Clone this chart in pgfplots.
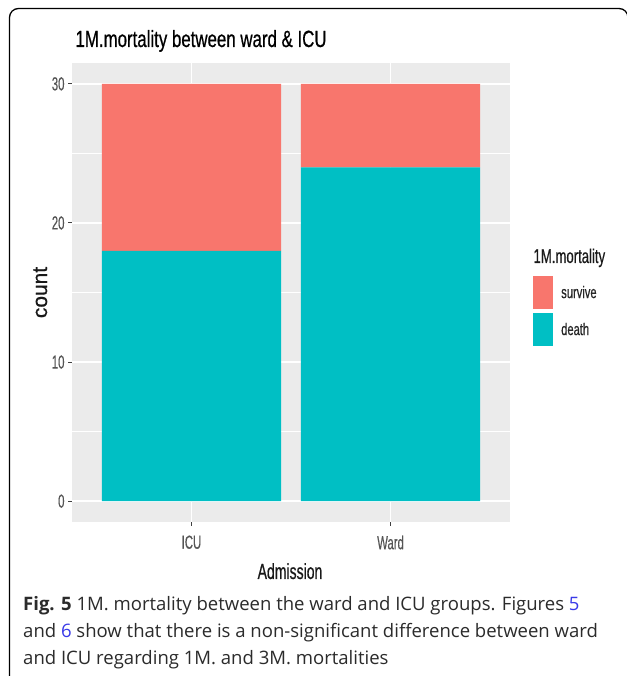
\documentclass[border=0pt]{standalone}
\usepackage{fontspec}
\usepackage{pgfplots}
\pgfplotsset{compat=1.18}
\setmainfont{Liberation Sans}
\newfontfamily\ggfont[FakeStretch=0.66,FakeBold=0.4]{Liberation Sans}
\newfontfamily\ggtick[FakeStretch=0.6,FakeBold=0.3]{Liberation Sans}
\newfontfamily\ggax[FakeStretch=0.64,FakeBold=0.6]{Liberation Sans}
\newfontfamily\ggtitle[FakeStretch=0.72,FakeBold=0.6]{Liberation Sans}
\newfontfamily\ggcount[FakeBold=0.6]{Liberation Sans}
\newfontfamily\capfont{Open Sans}
\definecolor{survive}{HTML}{F8766D}
\definecolor{death}{HTML}{00BFC4}
\definecolor{panel}{HTML}{EBEBEB}
\definecolor{ticklab}{HTML}{555555}
\definecolor{captxt}{HTML}{2B2B2B}
\definecolor{linkblue}{HTML}{3A3AE8}
\pgfplotsset{keyrect/.style={legend image code/.code={\fill[##1,draw=none] (0bp,-16.5bp) rectangle (20bp,16.5bp);}}}
\begin{document}
\begin{tikzpicture}[x=1bp,y=1bp]
\useasboundingbox (0,0) rectangle (627,676);
\fill[white] (0,0) rectangle (627,676);
\draw[line width=1.3bp, rounded corners=9bp] (9.5,-20) -- (9.5,667.5) -- (628,667.5) -- (628,-20);
\begin{axis}[
  at={(72bp,154bp)}, anchor=south west,
  scale only axis, width=438bp, height=459bp,
  xmin=0.4, xmax=2.6, ymin=-1.5, ymax=31.5,
  axis background/.style={fill=panel},
  axis line style={draw=none},
  ybar stacked, bar width=0.9,
  xtick={1,2}, xticklabels={ICU,Ward},
  ytick={0,10,20,30}, minor ytick={5,15,25},
  grid=both,
  major grid style={white, line width=1.4bp},
  minor grid style={white, line width=0.7bp},
  tick align=outside, major tick length=4bp, minor tick length=0pt,
  tick style={color=black!75, line width=1bp},
  tick pos=left,
  /pgf/number format/assume math mode=true,
  ticklabel style={font=\ggtick\fontsize{19}{19}\selectfont, text=ticklab},
  xticklabel style={yshift=-6bp},
  reverse legend,
  legend cell align=left,
  legend style={at={(1.0457,0.5403)}, anchor=north west, draw=none, fill=none,
    row sep=4bp, column sep=8bp, nodes={inner sep=0pt},
    font=\ggfont\fontsize{17}{17}\selectfont, text=black!85},
]
\addplot[fill=death, draw=none, keyrect] coordinates {(1,18) (2,24)};
\addlegendentry{death}
\addplot[fill=survive, draw=none, keyrect] coordinates {(1,12) (2,6)};
\addlegendentry{survive}
\end{axis}
\node[anchor=base west, text=black] at (72,629) {\ggtitle\fontsize{23.5}{24}\selectfont 1M.mortality between ward \& ICU};
\node[anchor=base west, text=black!90] at (530,413) {\ggfont\fontsize{20}{20}\selectfont 1M.mortality};
\node[anchor=base, text=black!90] at (290,97) {\ggax\fontsize{22}{22}\selectfont Admission};
\node[anchor=base, rotate=90, text=black!90] at (47,383.5) {\ggcount\fontsize{21}{21}\selectfont count};
\node[anchor=base west, inner sep=0pt, text=captxt] at (23,65) {\capfont\fontsize{18.6}{18.6}\selectfont \textbf{Fig. 5} 1M. mortality between the ward and ICU groups. Figures {\color{linkblue}5}};
\node[anchor=base west, inner sep=0pt, text=captxt] at (23,38) {\capfont\fontsize{18.6}{18.6}\selectfont and {\color{linkblue}6} show that there is a non-significant difference between ward};
\node[anchor=base west, inner sep=0pt, text=captxt] at (23,11) {\capfont\fontsize{18.6}{18.6}\selectfont and ICU regarding 1M. and 3M. mortalities};
\end{tikzpicture}
\end{document}
